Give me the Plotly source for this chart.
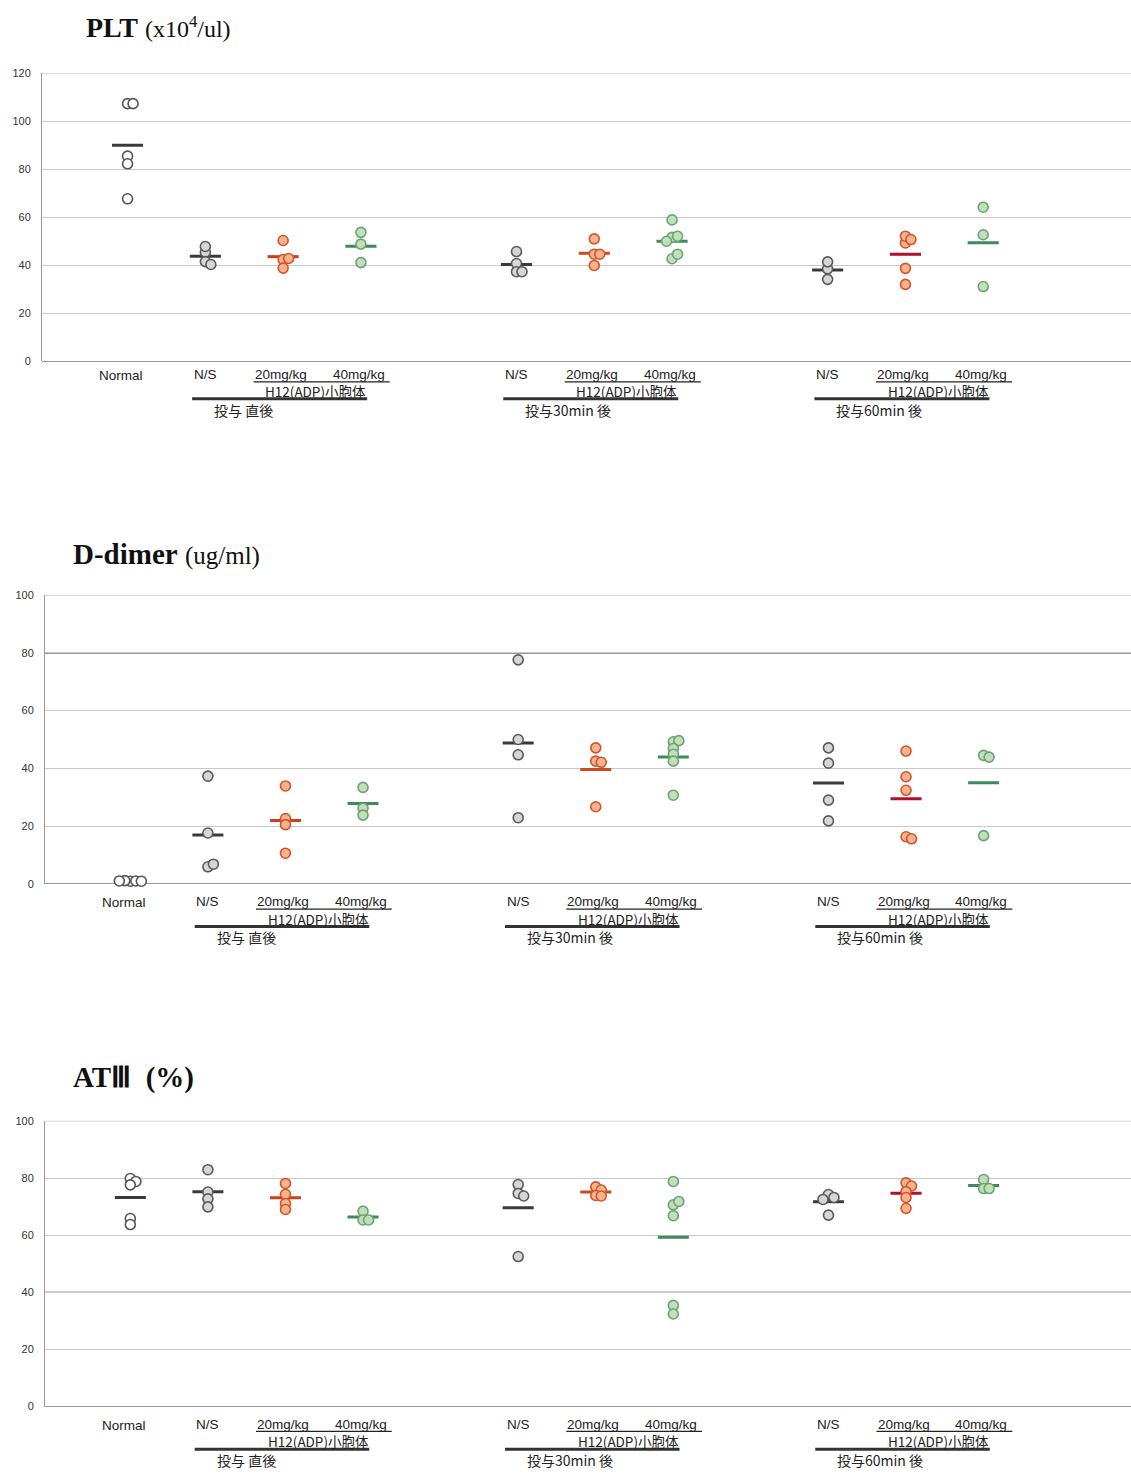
import plotly.graph_objects as go

W, H = 1131, 1478

# ---------------- data ----------------
GROUP_NAMES = ["Normal", "N/S", "20mg/kg", "40mg/kg"]
TIMEPOINTS = ["投与 直後", "投与30min 後", "投与60min 後"]
TREATMENT_LABEL = "H12(ADP)小胞体"

# PLT (x10^4/ul): N/S, 20mg/kg, 40mg/kg lists are per timepoint [直後, 30min, 60min]
PLT_NORMAL = [107.4, 107.4, 85.5, 82.3, 67.7]
PLT_NS = [[45.4, 47.8, 41.5, 40.3], [45.7, 40.7, 37.3, 37.3], [38.5, 41.4, 34.1]]
PLT_20 = [[50.3, 42.4, 42.8, 38.8], [51.0, 44.6, 44.6, 39.9], [49.3, 52.1, 50.7, 38.7, 32.0]]
PLT_40 = [[53.7, 48.8, 41.1], [58.9, 51.6, 52.1, 50.0, 42.7, 44.6], [64.2, 52.7, 31.1]]
PLT_TICKS = [0, 20, 40, 60, 80, 100, 120]

# D-dimer (ug/ml)
DD_NORMAL = [0.9, 1.0, 1.1, 0.9, 1.0]
DD_NS = [[37.3, 17.6, 5.9, 6.8], [77.6, 50.0, 44.7, 22.9], [47.1, 41.8, 29.0, 21.8]]
DD_20 = [[33.9, 22.6, 20.5, 10.6], [47.1, 42.5, 42.1, 26.7], [46.0, 37.1, 32.4, 16.3, 15.6]]
DD_40 = [[33.4, 26.2, 23.8], [49.2, 49.6, 46.9, 44.9, 42.5, 30.7], [44.5, 43.9, 16.7]]
DD_TICKS = [0, 20, 40, 60, 80, 100]

# AT III (%)
AT_NORMAL = [79.8, 78.8, 77.6, 65.8, 63.7]
AT_NS = [[82.9, 75.1, 72.7, 69.9], [77.7, 74.6, 73.7, 52.5], [74.2, 73.2, 72.5, 67.0]]
AT_20 = [[78.1, 74.3, 71.1, 69.0], [76.9, 75.8, 73.9, 73.7], [78.3, 77.2, 75.2, 73.2, 69.4]]
AT_40 = [[68.4, 65.3, 65.3], [78.8, 70.6, 71.8, 66.8, 35.4, 32.4], [79.5, 76.3, 76.3]]
AT_TICKS = [0, 20, 40, 60, 80, 100]

# ---------------- layout / style ----------------
NORMAL_POS = 0
GROUP_STARTS = [1, 5, 9]          # position of N/S in each timepoint block
X_RANGE = [-1.1, 12.9]

STYLE = {
    "normal": dict(fill="#ffffff", edge="#555555", mean=["#3a3a3a"] * 3),
    "ns": dict(fill="#d6d6d6", edge="#5a5a5a", mean=["#3a3a3a"] * 3),
    "20": dict(fill="#f5b48e", edge="#d4532b", mean=["#c8421e", "#cc4a1c", "#b0102c"]),
    "40": dict(fill="#c3dfba", edge="#6aa476", mean=["#3f8a5c", "#3f8a5c", "#3f8a5c"]),
}

CHARTS = [
    dict(title="<b>PLT</b> <span style='font-size:24px'>(x10<sup>4</sup>/ul)</span>",
         tsize=28, tx=85, ty=22,
         normal=PLT_NORMAL, ns=PLT_NS, d20=PLT_20, d40=PLT_40,
         ticks=PLT_TICKS, top=68, bottom=358, left=42,
         rows=(371.5, 379, 388.5, 396, 407.5), dark=None),
    dict(title="<b>D-dimer</b> <span style='font-size:25px'>(ug/ml)</span>",
         tsize=29, tx=72, ty=552,
         normal=DD_NORMAL, ns=DD_NS, d20=DD_20, d40=DD_40,
         ticks=DD_TICKS, top=594, bottom=885, left=45,
         rows=(903, 910.5, 920, 928, 939), dark=80),
    dict(title="<b>ATⅢ  (%)</b>",
         tsize=29, tx=72, ty=1080,
         normal=AT_NORMAL, ns=AT_NS, d20=AT_20, d40=AT_40,
         ticks=AT_TICKS, top=1124, bottom=1412, left=45,
         rows=(1430, 1437, 1447, 1455, 1466), dark=40),
]


def py(px):
    return 1 - px / H


def dodge(values, ppx, ppy, diam=11.0, gap=0.5):
    """Deterministic side-by-side offsets so overlapping circles are spread out."""
    step = gap * diam
    cands = [0.0]
    for k in range(1, 12):
        cands += [k * step, -k * step]
    placed, offs = [], []
    for v in values:
        chosen = cands[-1]
        for c in cands:
            if all((c - pc) ** 2 + ((v - pv) * ppy) ** 2 >= step ** 2 for pc, pv in placed):
                chosen = c
                break
        placed.append((chosen, v))
        offs.append(chosen / ppx)
    return offs


fig = go.Figure()
annotations, shapes = [], []
layout_axes = {}

for i, ch in enumerate(CHARTS):
    n = "" if i == 0 else str(i + 1)
    xa, ya = "x" + n, "y" + n
    ymax = ch["ticks"][-1]
    ppx = (W - ch["left"]) / (X_RANGE[1] - X_RANGE[0])
    ppy = (ch["bottom"] - ch["top"]) / ymax

    layout_axes["xaxis" + n] = dict(
        domain=[ch["left"] / W, 1], range=X_RANGE, showgrid=False, zeroline=False,
        showticklabels=False, showline=False, fixedrange=True, anchor=ya)
    layout_axes["yaxis" + n] = dict(
        domain=[py(ch["bottom"]), py(ch["top"])], range=[0, ymax], tickvals=ch["ticks"],
        showgrid=True, gridcolor="#c9c9c9", gridwidth=1, zeroline=True,
        zerolinecolor="#9a9a9a", zerolinewidth=1, showline=True, linecolor="#9a9a9a",
        linewidth=1, ticks="", ticklabelstandoff=8,
        tickfont=dict(family="Liberation Sans", size=11, color="#333333"),
        fixedrange=True, anchor=xa)

    # top border line (gridline at the top of the range)
    shapes.append(dict(type="line", xref=xa + " domain", yref=ya, x0=0, x1=1,
                       y0=ymax, y1=ymax, line=dict(color="#b5b5b5", width=1), layer="below"))

    # series: (values, center position, style key, timepoint index)
    series = [(ch["normal"], NORMAL_POS, "normal", 0)]
    for t, g0 in enumerate(GROUP_STARTS):
        series.append((ch["ns"][t], g0, "ns", t))
        series.append((ch["d20"][t], g0 + 1, "20", t))
        series.append((ch["d40"][t], g0 + 2, "40", t))

    for vals, pos, key, t in series:
        st = STYLE[key]
        offs = dodge(vals, ppx, ppy)
        mean = sum(vals) / len(vals)
        fig.add_trace(go.Scatter(
            x=[pos - 0.2, pos + 0.2], y=[mean, mean], mode="lines",
            line=dict(color=st["mean"][t], width=3), xaxis=xa, yaxis=ya,
            hoverinfo="skip", showlegend=False))
        fig.add_trace(go.Scatter(
            x=[pos + o for o in offs], y=vals, mode="markers",
            marker=dict(size=10, color=st["fill"], line=dict(color=st["edge"], width=1.6)),
            xaxis=xa, yaxis=ya, showlegend=False, cliponaxis=False))

    if ch["dark"] is not None:
        shapes.append(dict(type="line", xref=xa + " domain", yref=ya, x0=0, x1=1,
                           y0=ch["dark"], y1=ch["dark"], line=dict(color="#333333", width=1.2),
                           layer="below"))

    # title
    annotations.append(dict(text=ch["title"], xref="paper", yref="paper",
                            x=ch["tx"] / W, y=py(ch["ty"]), xanchor="left", yanchor="middle",
                            showarrow=False, borderpad=0,
                            font=dict(family="Liberation Serif", size=ch["tsize"], color="#111111")))

    r1, rul, r2, rthick, r3 = ch["rows"]
    lat_font = dict(family="Liberation Sans", size=13.5, color="#222222")
    jp_font = dict(family="Noto Sans CJK JP", size=13.5, color="#222222")
    tp_font = dict(family="Noto Sans CJK JP", size=14, color="#222222")
    annotations.append(dict(text=GROUP_NAMES[0], xref=xa, yref="paper", x=NORMAL_POS - 0.08,
                            y=py(r1 + 1), showarrow=False, font=lat_font, borderpad=0,
                            xanchor="center", yanchor="middle"))
    for t, g0 in enumerate(GROUP_STARTS):
        for k in range(3):
            annotations.append(dict(text=GROUP_NAMES[k + 1], xref=xa, yref="paper",
                                    x=g0 + k - (0.03 if k else 0), y=py(r1), showarrow=False,
                                    font=lat_font, borderpad=0,
                                    xanchor="center", yanchor="middle"))
        annotations.append(dict(text=TREATMENT_LABEL, xref=xa, yref="paper",
                                x=g0 + 1.42, y=py(r2), showarrow=False, font=jp_font,
                                borderpad=0, xanchor="center", yanchor="middle"))
        annotations.append(dict(text=TIMEPOINTS[t], xref=xa, yref="paper",
                                x=g0 + 0.1, y=py(r3), showarrow=False, font=tp_font,
                                borderpad=0, xanchor="left", yanchor="middle"))
        shapes.append(dict(type="line", xref=xa, yref="paper", x0=g0 + 0.62, x1=g0 + 2.37,
                           y0=py(rul), y1=py(rul), line=dict(color="#222222", width=1.2)))
        shapes.append(dict(type="line", xref=xa, yref="paper", x0=g0 - 0.17, x1=g0 + 2.08,
                           y0=py(rthick), y1=py(rthick), line=dict(color="#333333", width=3)))

fig.update_layout(
    width=W, height=H, margin=dict(l=0, r=0, t=0, b=0),
    paper_bgcolor="white", plot_bgcolor="white", showlegend=False,
    annotations=annotations, shapes=shapes, **layout_axes)

fig.write_html("out.html")
